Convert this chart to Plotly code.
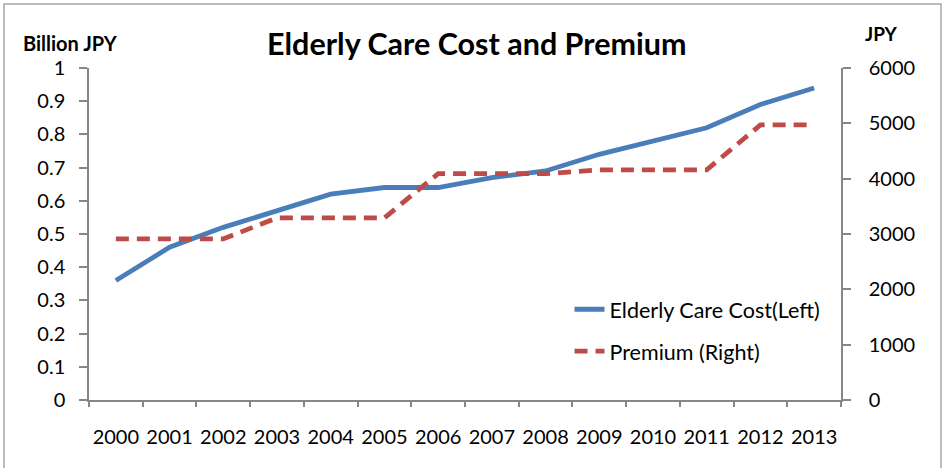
import plotly.graph_objects as go

years = ["2000", "2001", "2002", "2003", "2004", "2005", "2006",
         "2007", "2008", "2009", "2010", "2011", "2012", "2013"]
care_cost = [0.36, 0.46, 0.52, 0.57, 0.62, 0.64, 0.64,
             0.67, 0.69, 0.74, 0.78, 0.82, 0.89, 0.94]
premium = [2911, 2911, 2911, 3293, 3293, 3293, 4090,
           4090, 4090, 4160, 4160, 4160, 4972, 4972]

FONT = "Lato"
AX = "#868686"

fig = go.Figure()
fig.add_trace(go.Scatter(
    x=years, y=care_cost, mode="lines", name="Elderly Care Cost(Left)",
    line=dict(color="#4a7ebb", width=4.8), legendgroup="a", yaxis="y"))
fig.add_trace(go.Scatter(
    x=years, y=premium, mode="lines", name="Premium (Right)",
    line=dict(color="#be4b48", width=4.8, dash="13px,8px"), legendgroup="b", yaxis="y2"))

fig.update_layout(
    width=946, height=468,
    margin=dict(l=89, r=105, t=68, b=68, autoexpand=False),
    paper_bgcolor="white", plot_bgcolor="white",
    font=dict(family=FONT, size=20, color="black"),
    title=dict(text="<b>Elderly Care Cost and Premium</b>", x=0.504, xanchor="center",
               y=1 - 44 / 468, yanchor="middle", font=dict(family=FONT, size=30.5, color="black")),
    showlegend=True,
    legend=dict(x=0.639, y=0.21, xanchor="left", yanchor="middle", bgcolor="rgba(0,0,0,0)",
                traceorder="grouped", tracegroupgap=11, font=dict(family=FONT, size=21.5)),
    xaxis=dict(type="category", showgrid=False, showline=True, linecolor=AX, linewidth=1.5,
               ticks="outside", tickson="boundaries", ticklen=5, tickcolor=AX, tickwidth=1.5,
               ticklabelstandoff=18, tickangle=0, automargin=False,
               tickfont=dict(size=20), range=[-0.5, 13.5]),
    yaxis=dict(range=[0, 1], dtick=0.1, tick0=0, showgrid=False, showline=True, linecolor=AX,
               linewidth=1.5, ticks="outside", ticklen=8, tickcolor=AX, tickwidth=1.5,
               ticklabelstandoff=10, zeroline=False, automargin=False, tickfont=dict(size=20)),
    yaxis2=dict(range=[0, 6000], dtick=1000, tick0=0, overlaying="y", side="right",
                showgrid=False, showline=True, linecolor=AX, linewidth=1.5, ticks="outside",
                ticklen=8, tickcolor=AX, tickwidth=1.5, ticklabelstandoff=14, zeroline=False,
                automargin=False, tickfont=dict(size=20)),
    annotations=[
        dict(text="<b>Billion JPY</b>", xref="paper", yref="paper", x=(70 - 89) / 752,
             y=(400 - 43) / 332, xanchor="center", yanchor="middle", showarrow=False,
             font=dict(family=FONT, size=20, color="black")),
        dict(text="<b>JPY</b>", xref="paper", yref="paper", x=(882 - 89) / 752,
             y=(400 - 33) / 332, xanchor="center", yanchor="middle", showarrow=False,
             font=dict(family=FONT, size=19, color="black")),
    ],
    shapes=[dict(type="rect", xref="paper", yref="paper",
                 x0=(4 - 89) / 752, x1=(941 - 89) / 752,
                 y0=(400 - 475) / 332, y1=(400 - 4) / 332,
                 line=dict(color="#a6a6a6", width=1.5), fillcolor="rgba(0,0,0,0)", layer="below")],
)

fig.write_html("out.html")
